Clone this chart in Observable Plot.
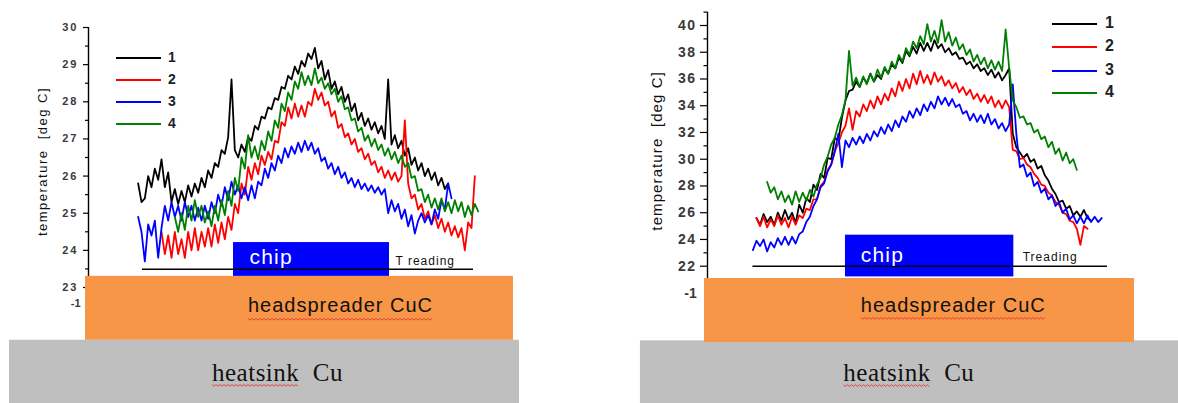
<!DOCTYPE html>
<html><head><meta charset="utf-8">
<script src="https://cdn.jsdelivr.net/npm/d3@7"></script>
<script src="https://cdn.jsdelivr.net/npm/@observablehq/plot@0.6"></script>
<style>
body{margin:0;background:#fff;}
#wrap{position:relative;width:1178px;height:403px;overflow:hidden;font-family:"Liberation Sans",Arial,sans-serif;}
.panel{position:absolute;top:0;}
.legline{position:absolute;height:2px;}
.leglab{position:absolute;color:#222;line-height:1;font-weight:bold;}
</style></head><body>
<div id="wrap">
  <div id="left" class="panel" style="left:0"></div>
  <div id="right" class="panel" style="left:620px"></div>
</div>
<script>
// ---------- data ----------
const seriesNames = ["1", "2", "3", "4"];
const seriesColors = ["#000000", "#ff0000", "#0000ff", "#008000"];
const yTitle = "temperature\u00a0\u00a0[deg C]";

// left panel: temperature [deg C] per sample position (first sample index given in leftStart)
const leftTicks = [23, 24, 25, 26, 27, 28, 29, 30];
const leftMinorTicks = [23.5, 24.5, 25.5, 26.5, 27.5, 28.5, 29.5];
const leftStart = [0, 7, 0, 11];
const leftBlack = [25.8,25.3,25.4,26.0,25.7,26.2,25.9,26.45,25.7,26.1,
  25.3,25.65,25.25,25.6,25.3,25.75,25.45,25.8,25.55,25.95,
  25.7,26.15,25.95,26.35,26.25,26.7,26.6,27.05,28.6,26.7,
  26.5,26.85,26.65,27.05,26.95,27.35,27.25,27.6,27.55,27.85,
  27.8,28.1,28.05,28.4,28.35,28.7,28.6,28.95,28.75,29.1,
  28.95,29.3,29.15,29.45,28.9,29.1,28.6,28.85,28.35,28.55,
  28.2,28.4,28.0,28.2,27.75,27.95,27.5,27.7,27.35,27.55,
  27.25,27.45,27.15,27.35,27.0,28.6,26.85,27.1,26.75,26.95,
  26.55,26.75,26.3,26.5,26.15,26.35,26.0,26.2,25.9,26.1,
  25.75,25.95,25.65,25.8];
const leftRed = [24.5,23.9,24.4,23.8,24.5,23.9,24.3,23.8,24.5,24.0,
  24.6,24.0,24.5,24.1,24.6,24.1,24.7,24.2,24.75,24.3,
  24.9,24.55,25.25,25.0,25.8,25.5,26.25,25.9,26.35,26.05,
  26.55,26.3,26.65,26.45,26.95,26.9,27.45,27.35,27.85,27.55,
  27.95,27.6,27.9,27.6,28.0,27.9,28.35,28.05,28.25,27.9,
  28.0,27.6,27.75,27.3,27.4,27.05,27.15,26.85,27.0,26.65,
  26.75,26.45,26.6,26.3,26.4,26.1,26.25,25.95,26.15,25.9,
  26.1,25.85,26.0,27.5,25.8,25.4,25.5,25.1,25.25,24.85,
  25.05,24.7,24.95,24.6,24.85,24.5,24.75,24.4,24.65,24.35,
  24.6,24.0,24.75,24.6,26.0];
const leftBlue = [24.9,24.5,23.7,24.7,24.4,24.8,23.8,24.6,25.2,24.8,
  25.3,24.9,25.2,24.8,25.3,24.9,25.2,24.8,25.15,24.8,
  25.2,24.85,25.3,25.0,25.5,25.2,25.7,25.35,25.85,25.5,
  25.75,25.4,25.7,25.35,25.75,25.4,25.85,25.75,26.2,25.95,
  26.35,26.15,26.55,26.35,26.75,26.5,26.8,26.6,26.9,26.65,
  26.95,26.7,26.9,26.6,26.75,26.4,26.5,26.2,26.35,26.05,
  26.25,25.95,26.1,25.8,25.95,25.7,25.9,25.65,25.8,25.6,
  25.75,25.55,25.7,25.5,25.65,25.0,25.35,25.05,25.25,24.85,
  25.1,24.65,24.95,24.45,24.8,25.0,24.75,24.95,24.7,25.1,
  24.85,25.35,25.1,25.8,25.4];
const leftGreen = [24.9,24.5,25.0,24.55,25.2,24.8,25.35,24.9,25.2,24.75,
  25.05,24.65,25.2,24.8,25.35,24.95,25.6,25.2,25.95,25.6,
  26.5,26.2,27.1,26.5,26.8,26.45,26.95,26.7,27.2,26.95,
  27.5,27.3,27.95,27.75,28.25,28.05,28.55,28.35,28.8,28.45,
  28.7,28.45,28.9,28.5,28.65,28.35,28.5,28.2,28.35,28.0,
  28.15,27.8,27.85,27.5,27.55,27.2,27.3,26.95,27.1,26.8,
  27.0,26.7,26.85,26.55,26.75,26.45,26.65,26.35,26.55,26.25,
  26.35,25.95,26.0,25.6,25.65,25.3,25.5,25.15,25.4,25.1,
  25.4,25.05,25.3,25.0,25.35,25.05,25.3,24.9,25.2,24.95,
  25.25,25.05];

// right panel
const rightTicks = [22, 24, 26, 28, 30, 32, 34, 36, 38, 40];
const rightMinorTicks = [23, 25, 27, 29, 31, 33, 35, 37, 39, 41];
const rightStart = [1, 1, 0, 4];
const rightBlack = [25.6,25.1,25.9,25.3,25.7,25.1,26.0,25.4,26.2,25.5,
  26.0,25.2,26.6,26.0,27.1,26.8,28.1,27.7,28.9,28.6,
  30.1,30.0,31.6,31.4,33.1,34.4,35.1,35.2,35.8,35.4,
  36.1,35.7,36.4,35.8,36.3,36.0,36.8,36.4,37.1,36.8,
  37.6,37.2,38.1,37.7,38.4,37.9,38.7,38.1,38.7,38.1,
  38.9,38.3,38.6,38.0,38.3,37.8,38.0,37.5,37.6,37.1,
  37.3,36.8,37.1,36.6,36.8,36.3,36.7,36.1,36.5,35.9,
  36.3,36.8,31.9,30.9,30.5,30.1,30.4,29.8,30.0,29.3,
  29.5,28.8,28.4,27.8,27.4,26.8,26.9,26.3,26.5,25.8,
  26.1,25.7,26.2,25.6,25.4];
const rightRed = [25.6,25.0,25.7,24.9,25.5,25.0,25.8,25.1,25.6,24.9,
  25.7,25.1,25.8,25.6,26.3,26.2,27.0,27.0,28.0,28.3,
  29.2,29.6,30.6,31.2,32.0,32.5,33.8,32.2,33.6,33.2,
  34.1,33.6,34.4,33.8,34.7,34.1,34.9,34.4,35.3,34.7,
  35.8,35.1,36.0,35.3,36.4,35.6,36.6,35.7,36.3,35.6,
  36.5,35.8,36.2,35.5,35.9,35.3,35.7,35.0,35.4,34.8,
  35.2,34.5,34.9,34.3,34.8,34.2,34.7,33.9,34.4,33.8,
  34.4,33.9,30.7,30.6,30.0,30.1,29.6,29.4,28.9,28.6,
  28.1,28.0,27.5,27.3,26.8,26.6,26.0,25.9,25.4,25.3,
  24.8,23.6,25.0,24.8];
const rightBlue = [23.2,23.9,23.5,24.0,23.1,23.8,23.4,24.1,23.6,24.2,
  23.6,24.2,23.7,24.4,24.6,25.3,25.7,26.5,27.0,27.9,
  28.2,29.1,29.6,30.6,31.9,29.4,31.4,30.9,31.6,31.1,
  31.7,31.2,31.9,31.4,32.1,31.7,32.4,31.9,32.6,32.1,
  32.9,32.4,33.2,32.8,33.6,33.1,33.8,33.3,34.1,33.6,
  34.3,33.8,34.7,34.1,34.6,34.0,34.5,33.9,34.1,33.4,
  33.6,32.9,33.4,32.8,33.3,32.7,33.4,32.6,33.0,32.3,
  32.7,32.1,32.6,35.6,31.9,29.4,29.6,28.7,29.0,28.0,
  28.3,27.5,27.8,27.0,27.3,26.5,26.8,26.0,26.3,25.5,
  25.8,25.2,25.7,25.2,25.8,25.3,25.7,25.3,25.6];
const rightGreen = [28.3,27.5,27.9,27.0,27.6,26.8,27.3,26.6,27.6,26.8,
  27.5,26.9,27.7,27.2,28.1,28.6,29.6,30.2,31.1,31.6,
  32.6,33.3,34.4,38.1,35.5,36.1,35.4,36.2,35.6,36.4,
  35.8,36.7,36.1,36.9,36.4,37.3,36.8,37.8,37.3,38.3,
  37.8,38.8,38.3,39.2,38.6,40.1,38.8,39.6,38.7,40.4,
  38.8,39.5,38.5,39.1,38.2,38.6,37.8,38.2,37.3,37.8,
  37.1,37.6,36.8,37.4,36.7,37.3,36.6,39.7,36.8,34.4,
  33.9,33.1,33.2,32.6,32.7,32.0,32.2,31.5,31.7,30.9,
  31.3,30.4,30.8,29.9,30.5,29.7,30.0,29.2];

// ---------- helpers ----------
function toRows(starts, arrays) {
  const rows = [];
  arrays.forEach((vals, k) => vals.forEach((v, i) => rows.push({series: seriesNames[k], x: starts[k] + i, y: v})));
  return rows;
}

// schematic pieces, in each panel's data units
const leftScene = {
  sink: {x1: -38.6, x2: 114.4, y1: 19.7, y2: 21.58},
  spreader: {x1: -15.8, x2: 112.6, y1: 21.58, y2: 23.30},
  chip: {x1: 28.6, x2: 75.4, y1: 23.30, y2: 24.21},
  base: {x1: 1.3, x2: 100.6, y: 23.49},
  chipLabel: {x: 33.4, y: 23.82, t: "chip"},
  reading: {x: 77.2, y: 23.72, t: "T reading"},
  spreaderLabel: {x: 60.7, y: 22.50, t: "headspreader CuC"},
  sinkLabel: {x: 41.8, y: 20.71, t: "heatsink\u00a0\u00a0Cu"},
  minus: {x: -17.3, y: 22.57, t: "-1"}
};
const rightScene = {
  sink: {x1: -31.6, x2: 119.6, y1: 11.6, y2: 16.42},
  spreader: {x1: -13.6, x2: 107.2, y1: 16.30, y2: 21.08},
  chip: {x1: 26.0, x2: 73.3, y1: 21.20, y2: 24.32},
  base: {x1: 0, x2: 99.6, y: 22.0},
  chipLabel: {x: 30.3, y: 22.85, t: "chip"},
  reading: {x: 75.8, y: 22.68, t: "Treading"},
  spreaderLabel: {x: 56.3, y: 19.09, t: "headspreader CuC"},
  sinkLabel: {x: 43.8, y: 14.03, t: "heatsink\u00a0\u00a0Cu"},
  minus: {x: -15.8, y: 19.96, t: "-1"}
};

// red spell-check squiggle under the first n characters of a text element
function squiggle(textEl, n, drop) {
  const p0 = textEl.getStartPositionOfChar(0);
  const p1 = textEl.getEndPositionOfChar(n - 1);
  const yb = p0.y + drop;
  let d = `M${p0.x},${yb}`;
  let k = 0;
  for (let x = p0.x + 2; x <= p1.x; x += 2, k++) d += ` L${x},${yb + (k % 2 ? 0 : 1.6)}`;
  const path = document.createElementNS("http://www.w3.org/2000/svg", "path");
  path.setAttribute("d", d);
  path.setAttribute("fill", "none");
  path.setAttribute("stroke", "#e23a3a");
  path.setAttribute("stroke-width", "0.9");
  const tr = textEl.getAttribute("transform");
  if (tr) path.setAttribute("transform", tr);
  textEl.parentNode.appendChild(path);
}

function panel(cfg) {
  const sc = cfg.scene;
  const x0 = cfg.xDomain[0];
  const R = {x1: "x1", x2: "x2", y1: "y1", y2: "y2"};
  const T = {x: "x", y: "y", text: "t"};
  const svg = Plot.plot({
    width: cfg.width, height: 403,
    marginLeft: cfg.ml, marginRight: cfg.mr, marginTop: cfg.mt, marginBottom: cfg.mb,
    x: {domain: cfg.xDomain, axis: null},
    y: {domain: cfg.yDomain},
    color: {domain: seriesNames, range: seriesColors},
    style: {fontFamily: "'Liberation Sans', Arial, sans-serif", background: "transparent", overflow: "visible"},
    marks: [
      Plot.rect([sc.sink], {...R, fill: "#bfbfbf"}),
      Plot.ruleX([{x: x0, y1: cfg.axisSpan[0], y2: cfg.axisSpan[1]}], {x: "x", y1: "y1", y2: "y2", stroke: "#000", strokeWidth: 1.4}),
      Plot.axisY(cfg.minor, {tickSize: cfg.minorSize, tickFormat: () => "", stroke: "#000", strokeWidth: 1.2, label: null}),
      Plot.axisY(cfg.major, {tickSize: cfg.majorSize, tickPadding: cfg.pad, fontSize: cfg.tickFont, fontWeight: "bold", fill: "#3a3a3a", stroke: "#000", strokeWidth: 1.2, label: null}),
      Plot.text([yTitle], {text: d => d, frameAnchor: "left", textAnchor: "middle", dx: cfg.titleDx, dy: cfg.titleDy, rotate: -90, fontSize: cfg.titleFont, fill: "#111"}),
      Plot.text([sc.minus], {...T, textAnchor: "end", fontSize: cfg.tickFont, fontWeight: "bold", fill: "#3a3a3a"}),
      Plot.rect([sc.spreader], {...R, fill: "#f79646"}),
      Plot.line(cfg.rows, {x: "x", y: "y", z: "series", stroke: "series", strokeWidth: 1.8}),
      Plot.rect([sc.chip], {...R, fill: "#0000ff"}),
      Plot.ruleY([sc.base], {x1: "x1", x2: "x2", y: "y", stroke: "#000", strokeWidth: 1.5}),
      Plot.text([sc.chipLabel], {...T, textAnchor: "start", fill: "#fff", fontSize: 21}),
      Plot.text([sc.reading], {...T, textAnchor: "start", fill: "#111", fontSize: 12}),
      Plot.text([sc.spreaderLabel], {...T, textAnchor: "middle", fill: "#111", fontSize: 20}),
      Plot.text([sc.sinkLabel], {...T, textAnchor: "middle", fill: "#111", fontSize: 25, fontFamily: "'Liberation Serif', 'Times New Roman', serif"})
    ]
  });
  document.getElementById(cfg.target).appendChild(svg);
  const s = d3.select(svg);
  s.selectAll('g[aria-label="y-axis tick label"] text').style("letter-spacing", cfg.tickSpacing);
  const todo = [];
  s.selectAll("text").each(function () {
    const el = d3.select(this);
    const txt = this.textContent;
    if (txt === yTitle) el.style("letter-spacing", cfg.titleSpacing);
    if (txt === "headspreader CuC") { el.style("letter-spacing", "1px"); todo.push([this, txt.length, 6]); }
    if (txt === "chip") el.style("letter-spacing", "1.2px");
    if (txt === "T reading" || txt === "Treading") el.style("letter-spacing", "1px");
    if (txt === "heatsink\u00a0\u00a0Cu") { el.style("letter-spacing", "0.5px"); todo.push([this, 8, 4]); }
  });
  todo.forEach(([el, n, drop]) => squiggle(el, n, drop));
}

panel({
  target: "left", width: 620, ml: 88, mr: 107, mt: 27, mb: 116,
  xDomain: [-14.9, 112.6], yDomain: [23, 30], axisSpan: [23, 30],
  major: leftTicks, minor: leftMinorTicks, majorSize: 5, minorSize: 3, pad: 5,
  tickFont: 11, tickSpacing: "2px", titleDx: -46, titleDy: 4, titleFont: 13, titleSpacing: "1.5px",
  rows: toRows(leftStart, [leftBlack, leftRed, leftBlue, leftGreen]), scene: leftScene
});
panel({
  target: "right", width: 558, ml: 87, mr: 44, mt: 25, mb: 137.3,
  xDomain: [-12.76, 107.2], yDomain: [22, 40], axisSpan: [21, 41],
  major: rightTicks, minor: rightMinorTicks, majorSize: 7, minorSize: 3.5, pad: 4,
  tickFont: 14, tickSpacing: "1.5px", titleDx: -50, titleDy: 5, titleFont: 15, titleSpacing: "1.1px",
  rows: toRows(rightStart, [rightBlack, rightRed, rightBlue, rightGreen]), scene: rightScene
});

// legends (HTML, page pixels)
const legendLayout = [
  {x1: 116, x2: 161, labelX: 168, ys: [58, 80, 102, 124], font: 14},
  {x1: 1052, x2: 1097, labelX: 1105, ys: [24, 47, 71, 93], font: 16}
];
const wrap = document.getElementById("wrap");
legendLayout.forEach(L => {
  seriesNames.forEach((name, i) => {
    const ln = document.createElement("div");
    ln.className = "legline";
    ln.style.left = L.x1 + "px"; ln.style.width = (L.x2 - L.x1) + "px";
    ln.style.top = (L.ys[i] - 1) + "px"; ln.style.background = seriesColors[i];
    wrap.appendChild(ln);
    const lb = document.createElement("div");
    lb.className = "leglab";
    lb.style.left = L.labelX + "px"; lb.style.top = (L.ys[i] - L.font * 0.55) + "px";
    lb.style.fontSize = L.font + "px";
    lb.textContent = name;
    wrap.appendChild(lb);
  });
});
</script>
</body></html>
